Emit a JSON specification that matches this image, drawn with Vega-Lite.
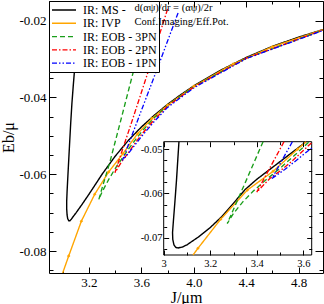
{
 "$schema": "https://vega.github.io/schema/vega-lite/v6.json",
 "width": 274,
 "height": 272,
 "autosize": {"type": "none"},
 "padding": {"left": 49, "top": 1, "right": 1, "bottom": 31},
 "background": "white",
 "config": {"view": {"stroke": "black", "strokeWidth": 1}, "font": "Liberation Serif"},
 "datasets": {
  "main": [
   {"s":"IR: MS","J":5.0,"E":-0.0222},{"s":"IR: MS","J":4.8,"E":-0.0243},{"s":"IR: MS","J":4.6,"E":-0.0267},{"s":"IR: MS","J":4.4,"E":-0.0296},{"s":"IR: MS","J":4.2,"E":-0.0330},{"s":"IR: MS","J":4.0,"E":-0.0370},{"s":"IR: MS","J":3.9,"E":-0.0393},{"s":"IR: MS","J":3.8,"E":-0.0418},{"s":"IR: MS","J":3.7,"E":-0.0446},{"s":"IR: MS","J":3.6,"E":-0.0477},{"s":"IR: MS","J":3.5,"E":-0.0512},{"s":"IR: MS","J":3.4,"E":-0.0553},{"s":"IR: MS","J":3.3,"E":-0.0600},{"s":"IR: MS","J":3.25,"E":-0.0626},{"s":"IR: MS","J":3.2,"E":-0.0652},{"s":"IR: MS","J":3.15,"E":-0.0677},{"s":"IR: MS","J":3.1,"E":-0.0701},{"s":"IR: MS","J":3.08,"E":-0.0710},{"s":"IR: MS","J":3.065,"E":-0.0717},{"s":"IR: MS","J":3.055,"E":-0.0721},{"s":"IR: MS","J":3.046,"E":-0.0721},{"s":"IR: MS","J":3.038,"E":-0.0716},{"s":"IR: MS","J":3.033,"E":-0.0706},{"s":"IR: MS","J":3.030,"E":-0.0690},{"s":"IR: MS","J":3.030,"E":-0.0670},{"s":"IR: MS","J":3.033,"E":-0.0645},{"s":"IR: MS","J":3.039,"E":-0.0605},{"s":"IR: MS","J":3.046,"E":-0.0560},{"s":"IR: MS","J":3.053,"E":-0.0515},{"s":"IR: MS","J":3.061,"E":-0.0465},{"s":"IR: MS","J":3.070,"E":-0.0415},{"s":"IR: MS","J":3.080,"E":-0.0370},{"s":"IR: MS","J":3.092,"E":-0.0320},{"s":"IR: MS","J":3.105,"E":-0.0280},{"s":"IR: MS","J":3.125,"E":-0.0235},{"s":"IR: MS","J":3.15,"E":-0.0190},{"s":"IR: MS","J":3.18,"E":-0.0140},
   {"s":"IR: IVP","J":2.99,"E":-0.0866},{"s":"IR: IVP","J":3.045,"E":-0.0813},{"s":"IR: IVP","J":3.142,"E":-0.0722},{"s":"IR: IVP","J":3.244,"E":-0.0652},{"s":"IR: IVP","J":3.35,"E":-0.0594},{"s":"IR: IVP","J":3.46,"E":-0.0546},{"s":"IR: IVP","J":3.57,"E":-0.0495},{"s":"IR: IVP","J":3.68,"E":-0.0455},{"s":"IR: IVP","J":3.8,"E":-0.0420},{"s":"IR: IVP","J":4.0,"E":-0.0371},{"s":"IR: IVP","J":4.3,"E":-0.0313},{"s":"IR: IVP","J":4.6,"E":-0.0268},{"s":"IR: IVP","J":5.0,"E":-0.0222},
   {"s":"IR: EOB - 3PN","J":3.68,"E":-0.0150},{"s":"IR: EOB - 3PN","J":3.62,"E":-0.0225},{"s":"IR: EOB - 3PN","J":3.55,"E":-0.0318},{"s":"IR: EOB - 3PN","J":3.45,"E":-0.0450},{"s":"IR: EOB - 3PN","J":3.36,"E":-0.0568},{"s":"IR: EOB - 3PN","J":3.30,"E":-0.0636},{"s":"IR: EOB - 3PN","J":3.275,"E":-0.0666},{"s":"IR: EOB - 3PN","J":3.30,"E":-0.0646},{"s":"IR: EOB - 3PN","J":3.35,"E":-0.0614},{"s":"IR: EOB - 3PN","J":3.40,"E":-0.0585},{"s":"IR: EOB - 3PN","J":3.50,"E":-0.0535},{"s":"IR: EOB - 3PN","J":3.60,"E":-0.0490},{"s":"IR: EOB - 3PN","J":3.70,"E":-0.0452},{"s":"IR: EOB - 3PN","J":3.80,"E":-0.0421},{"s":"IR: EOB - 3PN","J":4.0,"E":-0.0372},{"s":"IR: EOB - 3PN","J":4.4,"E":-0.0298},{"s":"IR: EOB - 3PN","J":5.0,"E":-0.0223},
   {"s":"IR: EOB - 2PN","J":3.80,"E":-0.0170},{"s":"IR: EOB - 2PN","J":3.73,"E":-0.0245},{"s":"IR: EOB - 2PN","J":3.664,"E":-0.0320},{"s":"IR: EOB - 2PN","J":3.53,"E":-0.0460},{"s":"IR: EOB - 2PN","J":3.45,"E":-0.0542},{"s":"IR: EOB - 2PN","J":3.398,"E":-0.0596},{"s":"IR: EOB - 2PN","J":3.45,"E":-0.0567},{"s":"IR: EOB - 2PN","J":3.50,"E":-0.0544},{"s":"IR: EOB - 2PN","J":3.55,"E":-0.0520},{"s":"IR: EOB - 2PN","J":3.60,"E":-0.0497},{"s":"IR: EOB - 2PN","J":3.70,"E":-0.0457},{"s":"IR: EOB - 2PN","J":3.80,"E":-0.0423},{"s":"IR: EOB - 2PN","J":4.0,"E":-0.0373},{"s":"IR: EOB - 2PN","J":4.4,"E":-0.0298},{"s":"IR: EOB - 2PN","J":5.0,"E":-0.0223},
   {"s":"IR: EOB - 1PN","J":3.88,"E":-0.0180},{"s":"IR: EOB - 1PN","J":3.80,"E":-0.0253},{"s":"IR: EOB - 1PN","J":3.727,"E":-0.0320},{"s":"IR: EOB - 1PN","J":3.60,"E":-0.0434},{"s":"IR: EOB - 1PN","J":3.52,"E":-0.0506},{"s":"IR: EOB - 1PN","J":3.455,"E":-0.0564},{"s":"IR: EOB - 1PN","J":3.50,"E":-0.0546},{"s":"IR: EOB - 1PN","J":3.55,"E":-0.0524},{"s":"IR: EOB - 1PN","J":3.60,"E":-0.0502},{"s":"IR: EOB - 1PN","J":3.70,"E":-0.0462},{"s":"IR: EOB - 1PN","J":3.80,"E":-0.0426},{"s":"IR: EOB - 1PN","J":4.0,"E":-0.0375},{"s":"IR: EOB - 1PN","J":4.4,"E":-0.0299},{"s":"IR: EOB - 1PN","J":5.0,"E":-0.0224}
  ],
  "inset": [
   {"s":"IR: MS","J":3.0655,"E":-0.0483},{"s":"IR: MS","J":3.061,"E":-0.0520},{"s":"IR: MS","J":3.055,"E":-0.0570},{"s":"IR: MS","J":3.048,"E":-0.0620},{"s":"IR: MS","J":3.042,"E":-0.0660},{"s":"IR: MS","J":3.038,"E":-0.0688},{"s":"IR: MS","J":3.039,"E":-0.0704},{"s":"IR: MS","J":3.044,"E":-0.0716},{"s":"IR: MS","J":3.052,"E":-0.0722},{"s":"IR: MS","J":3.062,"E":-0.0723},{"s":"IR: MS","J":3.08,"E":-0.0721},{"s":"IR: MS","J":3.10,"E":-0.0716},{"s":"IR: MS","J":3.125,"E":-0.0707},{"s":"IR: MS","J":3.15,"E":-0.0698},{"s":"IR: MS","J":3.20,"E":-0.0677},{"s":"IR: MS","J":3.25,"E":-0.0652},{"s":"IR: MS","J":3.30,"E":-0.0622},{"s":"IR: MS","J":3.35,"E":-0.0591},{"s":"IR: MS","J":3.40,"E":-0.0568},{"s":"IR: MS","J":3.45,"E":-0.0548},{"s":"IR: MS","J":3.50,"E":-0.0528},{"s":"IR: MS","J":3.55,"E":-0.0508},{"s":"IR: MS","J":3.60,"E":-0.0488},{"s":"IR: MS","J":3.612,"E":-0.0483},
   {"s":"IR: IVP","J":3.126,"E":-0.0739},{"s":"IR: IVP","J":3.147,"E":-0.0724},{"s":"IR: IVP","J":3.245,"E":-0.0658},{"s":"IR: IVP","J":3.36,"E":-0.0592},{"s":"IR: IVP","J":3.47,"E":-0.0550},{"s":"IR: IVP","J":3.575,"E":-0.0500},{"s":"IR: IVP","J":3.612,"E":-0.0483},
   {"s":"IR: EOB - 3PN","J":3.427,"E":-0.0483},{"s":"IR: EOB - 3PN","J":3.35,"E":-0.0576},{"s":"IR: EOB - 3PN","J":3.273,"E":-0.0668},{"s":"IR: EOB - 3PN","J":3.30,"E":-0.0645},{"s":"IR: EOB - 3PN","J":3.34,"E":-0.0619},{"s":"IR: EOB - 3PN","J":3.384,"E":-0.0595},{"s":"IR: EOB - 3PN","J":3.44,"E":-0.0569},{"s":"IR: EOB - 3PN","J":3.50,"E":-0.0543},{"s":"IR: EOB - 3PN","J":3.56,"E":-0.0515},{"s":"IR: EOB - 3PN","J":3.625,"E":-0.0483},
   {"s":"IR: EOB - 2PN","J":3.517,"E":-0.0483},{"s":"IR: EOB - 2PN","J":3.40,"E":-0.0597},{"s":"IR: EOB - 2PN","J":3.456,"E":-0.0566},{"s":"IR: EOB - 2PN","J":3.50,"E":-0.0549},{"s":"IR: EOB - 2PN","J":3.549,"E":-0.0528},{"s":"IR: EOB - 2PN","J":3.60,"E":-0.0503},{"s":"IR: EOB - 2PN","J":3.636,"E":-0.0485},
   {"s":"IR: EOB - 1PN","J":3.553,"E":-0.0483},{"s":"IR: EOB - 1PN","J":3.465,"E":-0.0566},{"s":"IR: EOB - 1PN","J":3.52,"E":-0.0546},{"s":"IR: EOB - 1PN","J":3.58,"E":-0.0521},{"s":"IR: EOB - 1PN","J":3.636,"E":-0.0497}
  ],
  "notes": [{"note": "d(αψ)/dr = (αψ)/2r"}, {"note": "Conf.Imaging/Eff.Pot."}]
 },
 "resolve": {"scale": {"x": "independent", "y": "independent"}, "axis": {"x": "independent", "y": "independent"}},
 "layer": [
  {
   "data": {"name": "main"},
   "mark": {"type": "line", "clip": true},
   "encoding": {
    "x": {"field": "J", "type": "quantitative", "scale": {"domain": [2.895, 4.986], "nice": false, "zero": false},
     "axis": {"orient": "bottom", "title": "J/μm", "values": [3.0,3.2,3.4,3.6,3.8,4.0,4.2,4.4,4.6,4.8], "domain": false, "grid": false, "tickColor": "black",
      "tickSize": {"condition": {"test": "round(datum.value*10) % 4 == 0", "value": -6}, "value": -3},
      "labelExpr": "round(datum.value*10) % 4 == 0 ? format(datum.value, '.1f') : ''",
      "labelFont": "Liberation Serif", "labelFontSize": 13, "labelColor": "black", "labelPadding": 9, "labelFlush": false, "labelOverlap": false,
      "titleFont": "Liberation Serif", "titleFontSize": 16, "titleFontWeight": "normal", "titleColor": "black", "titlePadding": -3}},
    "y": {"field": "E", "type": "quantitative", "scale": {"domain": [-0.0857, -0.0149], "nice": false, "zero": false},
     "axis": {"orient": "left", "title": "Eb/μ", "values": [-0.085,-0.08,-0.075,-0.07,-0.065,-0.06,-0.055,-0.05,-0.045,-0.04,-0.035,-0.03,-0.025,-0.02,-0.015], "domain": false, "grid": false, "tickColor": "black",
      "tickSize": {"condition": {"test": "round(datum.value*1000) % 20 == 0", "value": -7}, "value": -4},
      "labelExpr": "round(datum.value*1000) % 20 == 0 ? '-' + format(abs(datum.value), '.2f') : ''",
      "labelFont": "Liberation Serif", "labelFontSize": 13, "labelColor": "black", "labelPadding": 10, "labelFlush": false, "labelOverlap": false,
      "titleFont": "Liberation Serif", "titleFontSize": 16, "titleFontWeight": "normal", "titleColor": "black", "titlePadding": 2}},
    "color": {"field": "s", "type": "nominal",
     "scale": {"domain": ["IR: MS","IR: IVP","IR: EOB - 3PN","IR: EOB - 2PN","IR: EOB - 1PN"], "range": ["#000000","#FFA500","#1A9E1A","#FF0000","#0000FF"]},
     "legend": {"orient": "top-left", "offset": 0, "title": null, "padding": 2, "fillColor": "white", "strokeColor": "black",
      "symbolType": "M-1,0L3,0", "symbolSize": 144, "symbolStrokeWidth": 1.3, "labelOffset": 18, "rowPadding": 0.3,
      "labelFont": "Liberation Serif", "labelFontSize": 12, "labelColor": "black", "labelLimit": 300,
      "labelExpr": "datum.value == 'IR: MS' ? 'IR: MS -' : datum.value == 'IR: IVP' ? 'IR: IVP\u00a0\u00a0\u00a0\u00a0\u00a0\u00a0\u00a0\u00a0\u00a0\u00a0\u00a0\u00a0\u00a0\u00a0\u00a0\u00a0\u00a0\u00a0\u00a0\u00a0\u00a0\u00a0\u00a0\u00a0\u00a0\u00a0\u00a0\u00a0\u00a0\u00a0\u00a0\u00a0\u00a0' : datum.label"}},
    "strokeDash": {"field": "s", "type": "nominal",
     "scale": {"domain": ["IR: MS","IR: IVP","IR: EOB - 3PN","IR: EOB - 2PN","IR: EOB - 1PN"], "range": [[1,0],[1,0],[5,3],[5,2,1.5,2],[5,2,1.5,2,1.5,2]]}},
    "strokeWidth": {"field": "s", "type": "nominal",
     "scale": {"domain": ["IR: MS","IR: IVP","IR: EOB - 3PN","IR: EOB - 2PN","IR: EOB - 1PN"], "range": [1.4,1.3,1.1,1.1,1.1]}, "legend": null},
    "order": {"value": null}
   }
  },
  {
   "data": {"name": "main"},
   "transform": [{"filter": "datum.s == 'IR: IVP'"}],
   "mark": {"type": "point", "shape": "diamond", "filled": true, "size": 12, "color": "#FFA500", "opacity": 1, "clip": true},
   "encoding": {
    "x": {"field": "J", "type": "quantitative", "scale": {"domain": [2.895, 4.986], "nice": false, "zero": false}, "axis": null},
    "y": {"field": "E", "type": "quantitative", "scale": {"domain": [-0.0857, -0.0149], "nice": false, "zero": false}, "axis": null}
   }
  },
  {
   "data": {"values": [{}]},
   "mark": {"type": "point", "opacity": 0},
   "encoding": {
    "x": {"datum": 4, "type": "quantitative", "scale": {"domain": [2.895, 4.986], "nice": false, "zero": false},
     "axis": {"orient": "top", "title": null, "labels": false, "domain": false, "grid": false, "tickColor": "black", "values": [3.0,3.2,3.4,3.6,3.8,4.0,4.2,4.4,4.6,4.8],
      "tickSize": {"condition": {"test": "round(datum.value*10) % 4 == 0", "value": -6}, "value": -3}}},
    "y": {"datum": -0.05, "type": "quantitative", "scale": {"domain": [-0.0857, -0.0149], "nice": false, "zero": false},
     "axis": {"orient": "right", "title": null, "labels": false, "domain": false, "grid": false, "tickColor": "black", "values": [-0.085,-0.08,-0.075,-0.07,-0.065,-0.06,-0.055,-0.05,-0.045,-0.04,-0.035,-0.03,-0.025,-0.02,-0.015],
      "tickSize": {"condition": {"test": "round(datum.value*1000) % 20 == 0", "value": -8}, "value": -4}}}
   }
  },
  {
   "data": {"values": [{}]},
   "mark": {"type": "rect", "fill": "white", "stroke": "black", "strokeWidth": 1},
   "encoding": {
    "x": {"datum": 3.0, "type": "quantitative", "scale": {"domain": [3.0, 3.636], "range": [114.7, 262.7], "nice": false, "zero": false},
     "axis": {"orient": "bottom", "offset": -18, "zindex": 1, "title": null, "domain": false, "grid": false, "tickColor": "black", "values": [3.0,3.1,3.2,3.3,3.4,3.5,3.6],
      "tickSize": {"condition": {"test": "round(datum.value*10) % 2 == 0", "value": -5}, "value": -3},
      "labelExpr": "round(datum.value*10) % 2 == 0 ? format(datum.value, '~g') : ''",
      "labelFont": "Liberation Serif", "labelFontSize": 10.5, "labelColor": "black", "labelPadding": 8.5, "labelFlush": false, "labelOverlap": false}},
    "x2": {"datum": 3.636},
    "y": {"datum": -0.0739, "type": "quantitative", "scale": {"domain": [-0.0739, -0.0483], "range": [254, 140.7], "nice": false, "zero": false},
     "axis": {"orient": "left", "offset": -114.7, "zindex": 1, "title": null, "domain": false, "grid": false, "tickColor": "black", "values": [-0.0725,-0.07,-0.0675,-0.065,-0.0625,-0.06,-0.0575,-0.055,-0.0525,-0.05],
      "tickSize": {"condition": {"test": "round(datum.value*10000) % 100 == 0", "value": -5}, "value": -3},
      "labelExpr": "round(datum.value*10000) % 100 == 0 ? '-' + format(abs(datum.value), '.2f') : ''",
      "labelFont": "Liberation Serif", "labelFontSize": 10.5, "labelColor": "black", "labelPadding": 6.7, "labelFlush": false, "labelOverlap": false}},
    "y2": {"datum": -0.0483}
   }
  },
  {
   "data": {"name": "inset"},
   "mark": {"type": "line"},
   "encoding": {
    "x": {"field": "J", "type": "quantitative", "scale": {"domain": [3.0, 3.636], "range": [114.7, 262.7], "nice": false, "zero": false}, "axis": null},
    "y": {"field": "E", "type": "quantitative", "scale": {"domain": [-0.0739, -0.0483], "range": [254, 140.7], "nice": false, "zero": false}, "axis": null},
    "color": {"field": "s", "type": "nominal", "scale": {"domain": ["IR: MS","IR: IVP","IR: EOB - 3PN","IR: EOB - 2PN","IR: EOB - 1PN"], "range": ["#000000","#FFA500","#1A9E1A","#FF0000","#0000FF"]}, "legend": null},
    "strokeDash": {"field": "s", "type": "nominal", "scale": {"domain": ["IR: MS","IR: IVP","IR: EOB - 3PN","IR: EOB - 2PN","IR: EOB - 1PN"], "range": [[1,0],[1,0],[5,3],[5,2,1.5,2],[5,2,1.5,2,1.5,2]]}, "legend": null},
    "strokeWidth": {"field": "s", "type": "nominal", "scale": {"domain": ["IR: MS","IR: IVP","IR: EOB - 3PN","IR: EOB - 2PN","IR: EOB - 1PN"], "range": [1.4,1.3,1.1,1.1,1.1]}, "legend": null},
    "order": {"value": null}
   }
  },
  {
   "data": {"name": "inset"},
   "transform": [{"filter": "datum.s == 'IR: IVP' && datum.E > -0.0737 && datum.E < -0.0485"}],
   "mark": {"type": "point", "shape": "diamond", "filled": true, "size": 12, "color": "#FFA500", "opacity": 1},
   "encoding": {
    "x": {"field": "J", "type": "quantitative", "scale": {"domain": [3.0, 3.636], "range": [114.7, 262.7], "nice": false, "zero": false}, "axis": null},
    "y": {"field": "E", "type": "quantitative", "scale": {"domain": [-0.0739, -0.0483], "range": [254, 140.7], "nice": false, "zero": false}, "axis": null}
   }
  },
  {
   "data": {"values": [{}]},
   "mark": {"type": "point", "opacity": 0},
   "encoding": {
    "x": {"datum": 3.3, "type": "quantitative", "scale": {"domain": [3.0, 3.636], "range": [114.7, 262.7], "nice": false, "zero": false},
     "axis": {"orient": "top", "offset": -140.7, "zindex": 1, "title": null, "labels": false, "domain": false, "grid": false, "tickColor": "black", "values": [3.0,3.1,3.2,3.3,3.4,3.5,3.6],
      "tickSize": {"condition": {"test": "round(datum.value*10) % 2 == 0", "value": -5}, "value": -3}}},
    "y": {"datum": -0.06, "type": "quantitative", "scale": {"domain": [-0.0739, -0.0483], "range": [254, 140.7], "nice": false, "zero": false},
     "axis": {"orient": "right", "offset": -11.3, "zindex": 1, "title": null, "labels": false, "domain": false, "grid": false, "tickColor": "black", "values": [-0.0725,-0.07,-0.0675,-0.065,-0.0625,-0.06,-0.0575,-0.055,-0.0525,-0.05],
      "tickSize": {"condition": {"test": "round(datum.value*10000) % 100 == 0", "value": -5}, "value": -3}}}
   }
  },
  {
   "data": {"name": "notes"},
   "mark": {"type": "point", "opacity": 0},
   "encoding": {
    "shape": {"field": "note", "type": "nominal", "scale": {"domain": ["d(αψ)/dr = (αψ)/2r", "Conf.Imaging/Eff.Pot."]},
     "legend": {"orient": "none", "legendX": 75, "legendY": 2, "title": null, "padding": 0, "symbolSize": 0, "symbolOpacity": 0, "labelOffset": 0, "rowPadding": 3,
      "labelFont": "Liberation Serif", "labelFontSize": 10.5, "labelColor": "black", "labelLimit": 300,
      "labelExpr": "datum.value == 'd(αψ)/dr = (αψ)/2r' ? '\u00a0\u00a0\u00a0\u00a0' + datum.label : datum.label"}}
   }
  }
 ]
}
